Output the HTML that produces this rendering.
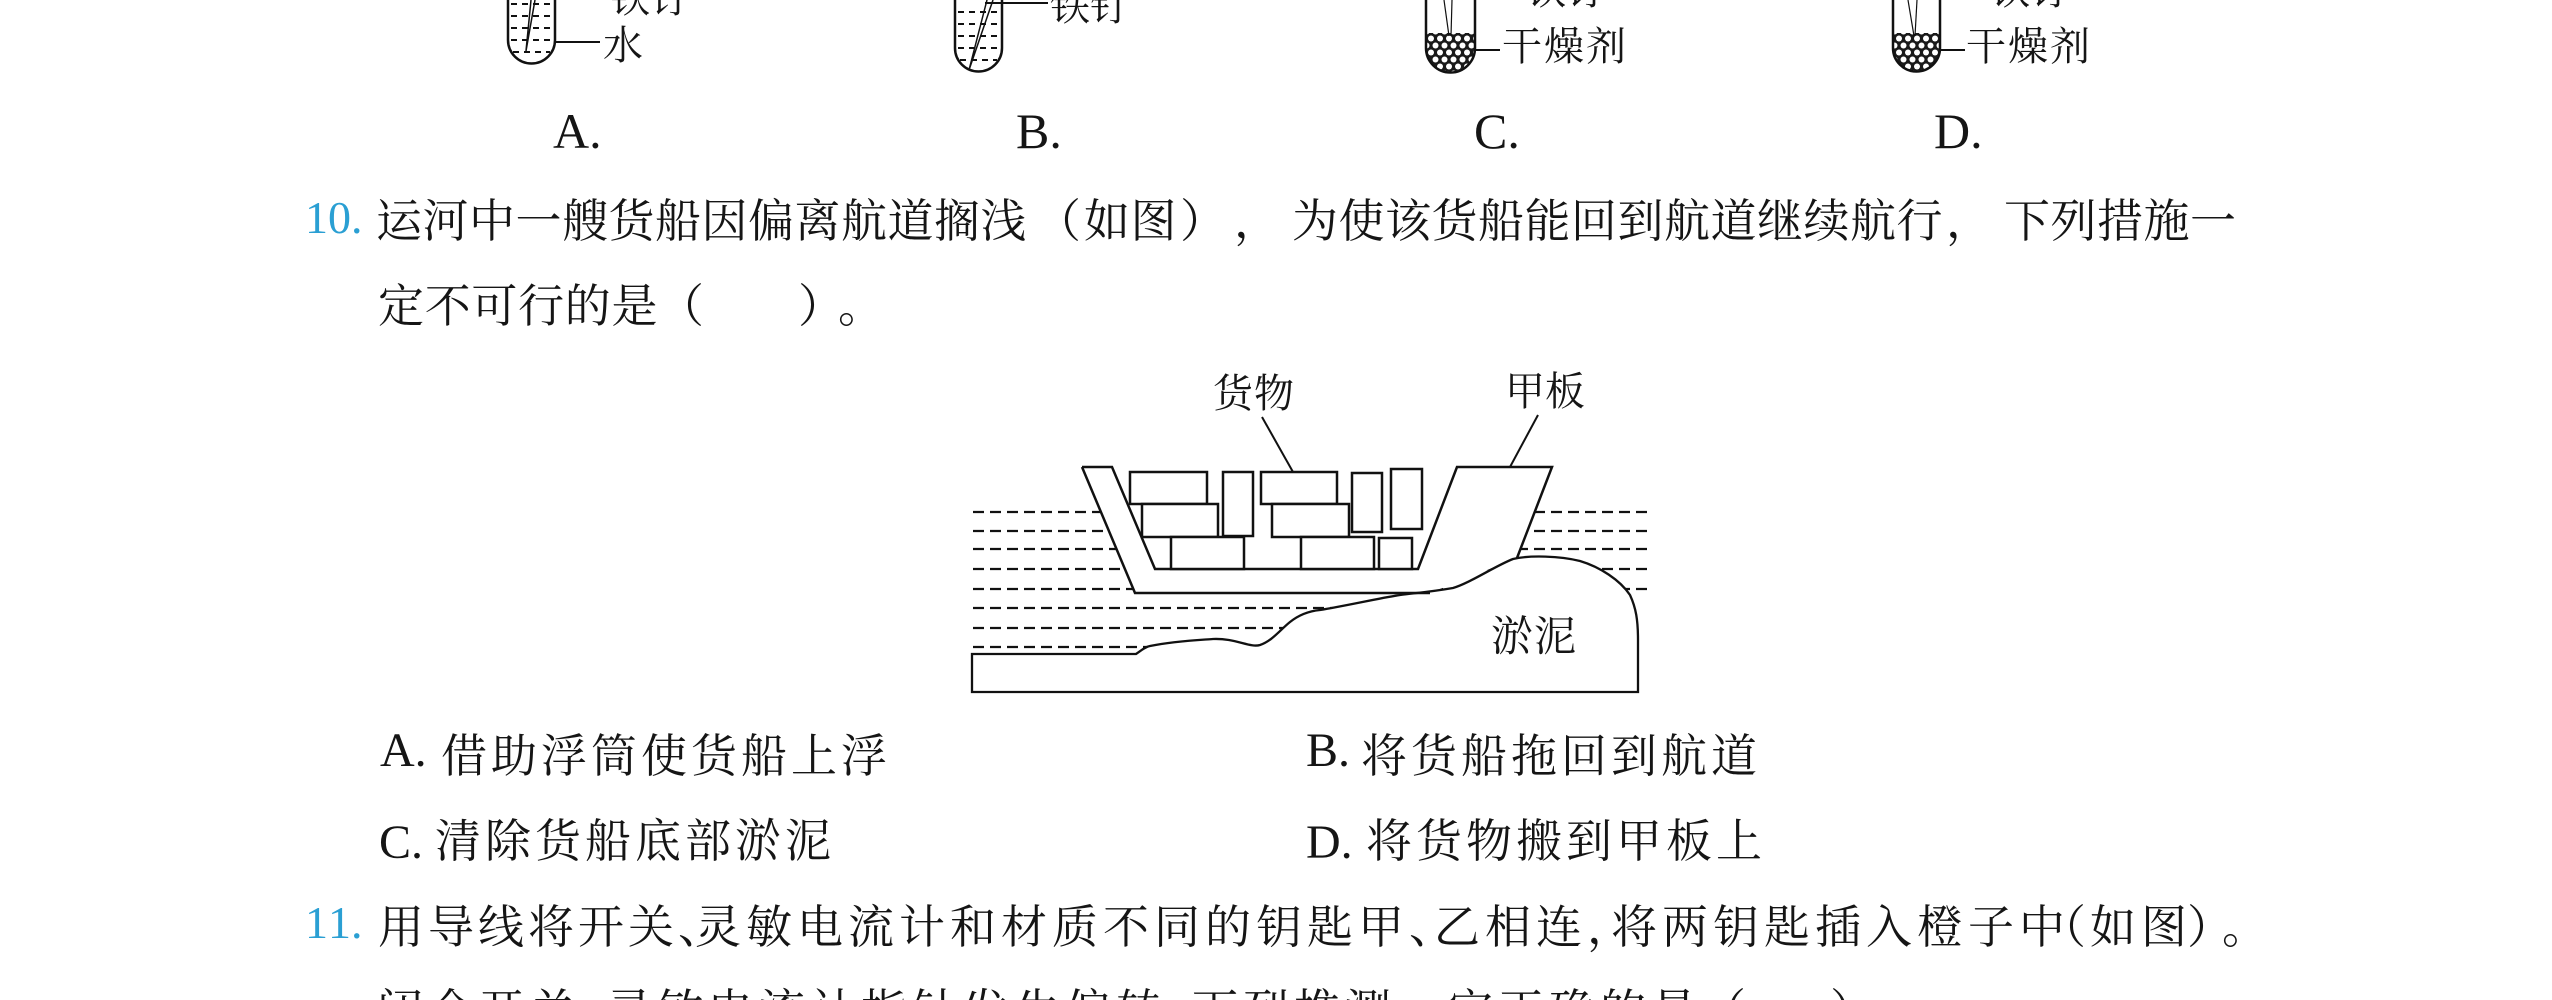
<!DOCTYPE html>
<html><head><meta charset="utf-8">
<style>
html,body{margin:0;padding:0;background:#fff;overflow:hidden;width:2552px;height:1000px;}
#p{position:relative;width:2552px;height:1000px;overflow:hidden;background:#fff;}
.t{position:absolute;white-space:nowrap;font-family:"Liberation Serif","Noto Serif CJK SC",serif;color:#151515;text-spacing-trim:space-all;font-kerning:none;}
.q{font-size:46px;line-height:46px;}
.s{font-size:40px;line-height:40px;}
.L{font-size:48px;line-height:48px;}
.TL{font-size:50px;line-height:50px;}
.b{color:#2a9fd3;}
svg{position:absolute;left:0;top:0;}
</style></head><body><div id="p">
<svg width="2552" height="1000" viewBox="0 0 2552 1000">
<defs>
<pattern id="g" width="9" height="14" patternUnits="userSpaceOnUse">
<rect width="9" height="14" fill="#1a1a1a"/>
<circle cx="4.5" cy="3.5" r="3" fill="#fff"/>
<circle cx="0" cy="10.5" r="3" fill="#fff"/>
<circle cx="9" cy="10.5" r="3" fill="#fff"/>
</pattern>
<clipPath id="cc"><path d="M1427 33 H1474 V48 A23.5 23.5 0 0 1 1427 48 Z"/></clipPath>
<clipPath id="cd"><path d="M1894 33 H1939 V48 A22.5 22.5 0 0 1 1894 48 Z"/></clipPath>
</defs>
<g stroke="#111" fill="none">
<!-- Tube A -->
<g stroke-width="2" stroke-dasharray="6 5">
<line x1="511" y1="4" x2="552" y2="4"/>
<line x1="511" y1="16" x2="552" y2="16"/>
<line x1="511" y1="28" x2="552" y2="28"/>
<line x1="511" y1="40" x2="552" y2="40"/>
<line x1="513" y1="52" x2="550" y2="52"/>
</g>
<path d="M508 0 V40 A23.5 23.5 0 0 0 555 40 V0" stroke-width="2.5"/>
<path d="M531 0 L526 51 L535 0" stroke-width="1.5"/>
<line x1="555" y1="42" x2="600" y2="42" stroke-width="2"/>
<!-- Tube B -->
<g stroke-width="2" stroke-dasharray="6 5">
<line x1="958" y1="12" x2="999" y2="12"/>
<line x1="958" y1="24" x2="999" y2="24"/>
<line x1="958" y1="36" x2="999" y2="36"/>
<line x1="958" y1="48" x2="999" y2="48"/>
<line x1="960" y1="60" x2="997" y2="60"/>
</g>
<path d="M955 0 V48 A23.5 23.5 0 0 0 1002 48 V0" stroke-width="2.5"/>
<path d="M987 0 L969 70 L993 0" stroke-width="1.5"/>
<line x1="985" y1="3" x2="1048" y2="3" stroke-width="2"/>
<!-- Tube C -->
<rect x="1420" y="30" width="60" height="45" fill="url(#g)" stroke="none" clip-path="url(#cc)"/>
<path d="M1426 0 V48 A24.5 24.5 0 0 0 1475 48 V0" stroke-width="2.5"/>
<line x1="1444" y1="0" x2="1449" y2="36" stroke-width="1.2"/>
<line x1="1452" y1="0" x2="1451" y2="36" stroke-width="1.2"/>
<line x1="1475" y1="50" x2="1500" y2="50" stroke-width="2"/>
<!-- Tube D -->
<rect x="1888" y="30" width="60" height="45" fill="url(#g)" stroke="none" clip-path="url(#cd)"/>
<path d="M1893 0 V48 A23.5 23.5 0 0 0 1940 48 V0" stroke-width="2.5"/>
<line x1="1908" y1="0" x2="1914" y2="36" stroke-width="1.2"/>
<line x1="1917" y1="0" x2="1915" y2="36" stroke-width="1.2"/>
<line x1="1940" y1="50" x2="1965" y2="50" stroke-width="2"/>

<!-- Ship diagram water -->
<g stroke-width="2.2" stroke-dasharray="11 6">
<line x1="973" y1="512" x2="1653" y2="512"/>
<line x1="973" y1="531" x2="1653" y2="531"/>
<line x1="973" y1="549" x2="1653" y2="549"/>
<line x1="973" y1="569" x2="1653" y2="569"/>
<line x1="973" y1="589" x2="1653" y2="589"/>
<line x1="973" y1="608" x2="1400" y2="608"/>
<line x1="973" y1="628" x2="1400" y2="628"/>
<line x1="973" y1="647" x2="1300" y2="647"/>
</g>
<!-- hull fill -->
<path d="M1082 467 L1135 593 L1430 593 L1517 558 L1552 467 Z" fill="#fff" stroke="none"/>
<!-- mud -->
<path d="M972 654 L1136 654 C1142 650 1145 647 1150 646 C1175 641 1200 640 1213 639 C1235 638 1250 648 1260 645 C1272 641 1280 630 1290 622 C1300 614 1310 611 1320 610 C1345 606 1380 598 1400 595 C1415 593 1430 592 1453 588 C1470 583 1495 566 1513 559 C1530 555 1560 556 1580 561 C1600 567 1620 580 1630 595 C1636 608 1638 620 1638 640 L1638 692 L972 692 Z" fill="#fff" stroke-width="2.3"/>
<!-- hull strokes -->
<path d="M1082 467 L1135 593 L1430 593" stroke-width="2.5"/>
<path d="M1082 467 L1112 467 L1155 569 L1418 569 L1457 467 L1552 467 L1517 558" stroke-width="2.5"/>
<!-- cargo -->
<g fill="#fff" stroke-width="2.5">
<rect x="1130" y="472" width="77" height="32"/>
<rect x="1223" y="472" width="30" height="64"/>
<rect x="1261" y="472" width="76" height="32"/>
<rect x="1142" y="504" width="76" height="33"/>
<rect x="1272" y="504" width="77" height="33"/>
<rect x="1171" y="537" width="73" height="32"/>
<rect x="1301" y="537" width="73" height="32"/>
<rect x="1379" y="538" width="33" height="31"/>
<rect x="1352" y="473" width="30" height="59"/>
<rect x="1391" y="469" width="31" height="60"/>
</g>
<line x1="1262" y1="417" x2="1293" y2="472" stroke-width="2"/>
<line x1="1538" y1="415" x2="1510" y2="467" stroke-width="2"/>
</g>
</svg>

<!-- tube labels -->
<div class="t s" style="left:603px;top:26px;">水</div>
<div class="t s" style="left:610px;top:-21px;">铁钉</div>
<div class="t s" style="left:1050px;top:-13px;">铁钉</div>
<div class="t s" style="left:1502px;top:27px;letter-spacing:2px;">干燥剂</div>
<div class="t s" style="left:1526px;top:-29px;">铁钉</div>
<div class="t s" style="left:1966px;top:27px;letter-spacing:2px;">干燥剂</div>
<div class="t s" style="left:1990px;top:-29px;">铁钉</div>
<div class="t TL" style="left:553px;top:106px;">A.</div>
<div class="t TL" style="left:1016px;top:106px;">B.</div>
<div class="t TL" style="left:1474px;top:106px;">C.</div>
<div class="t TL" style="left:1934px;top:106px;">D.</div>

<!-- Q10 -->
<div class="t q b" style="left:305px;top:195px;">10.</div>
<div class="t q" style="left:376px;top:199px;letter-spacing:0.5px;">运河中一艘货船因偏离航道搁浅</div>
<div class="t q" style="left:1035px;top:199px;">（</div>
<div class="t q" style="left:1084px;top:199px;letter-spacing:0.5px;">如图</div>
<div class="t q" style="left:1180px;top:199px;">）</div>
<div class="t q" style="left:1234px;top:199px;">，</div>
<div class="t q" style="left:1292px;top:199px;letter-spacing:0.5px;">为使该货船能回到航道继续航行</div>
<div class="t q" style="left:1946px;top:199px;">，</div>
<div class="t q" style="left:2004px;top:199px;letter-spacing:0.5px;">下列措施一</div>
<div class="t q" style="left:378px;top:284px;letter-spacing:0.7px;">定不可行的是</div>
<div class="t q" style="left:658px;top:284px;">（</div>
<div class="t q" style="left:798px;top:284px;">）</div>
<div class="t q" style="left:838px;top:284px;">。</div>

<!-- diagram labels -->
<div class="t s" style="left:1213px;top:374px;letter-spacing:1px;">货物</div>
<div class="t s" style="left:1505px;top:372px;">甲板</div>
<div class="t" style="left:1491px;top:617px;font-size:42px;line-height:42px;letter-spacing:1px;">淤泥</div>

<!-- options -->
<div class="t L" style="left:380px;top:727px;">A.</div>
<div class="t q" style="left:441px;top:734px;letter-spacing:4px;">借助浮筒使货船上浮</div>
<div class="t L" style="left:1306px;top:727px;">B.</div>
<div class="t q" style="left:1361px;top:734px;letter-spacing:4px;">将货船拖回到航道</div>
<div class="t L" style="left:379px;top:819px;">C.</div>
<div class="t q" style="left:435px;top:819px;letter-spacing:4px;">清除货船底部淤泥</div>
<div class="t L" style="left:1306px;top:819px;">D.</div>
<div class="t q" style="left:1366px;top:819px;letter-spacing:4px;">将货物搬到甲板上</div>

<!-- Q11 -->
<div class="t q b" style="left:305px;top:900px;">11.</div>
<div class="t q" style="left:378px;top:905px;letter-spacing:4px;">用导线将开关</div>
<div class="t q" style="left:678px;top:905px;">、</div>
<div class="t q" style="left:695px;top:905px;letter-spacing:5px;">灵敏电流计和材质不同的钥匙甲</div>
<div class="t q" style="left:1409px;top:905px;">、</div>
<div class="t q" style="left:1434px;top:905px;letter-spacing:5px;">乙相连</div>
<div class="t q" style="left:1587px;top:905px;">，</div>
<div class="t q" style="left:1611px;top:905px;letter-spacing:5px;">将两钥匙插入橙子中</div>
<div class="t q" style="left:2040px;top:905px;">（</div>
<div class="t q" style="left:2090px;top:905px;letter-spacing:5px;">如图</div>
<div class="t q" style="left:2187px;top:905px;">）</div>
<div class="t q" style="left:2222px;top:905px;">。</div>

<!-- partial bottom line -->
<div class="t q" style="left:377px;top:989px;letter-spacing:5px;">闭合开关</div>
<div class="t q" style="left:606px;top:989px;letter-spacing:5px;">灵敏电流计指针发生偏转</div>
<div class="t q" style="left:1192px;top:989px;letter-spacing:5px;">下列推测一定正确的是</div>
<div class="t q" style="left:1700px;top:989px;">（</div>
<div class="t q" style="left:1830px;top:989px;">）</div>
</div>
</body></html>
